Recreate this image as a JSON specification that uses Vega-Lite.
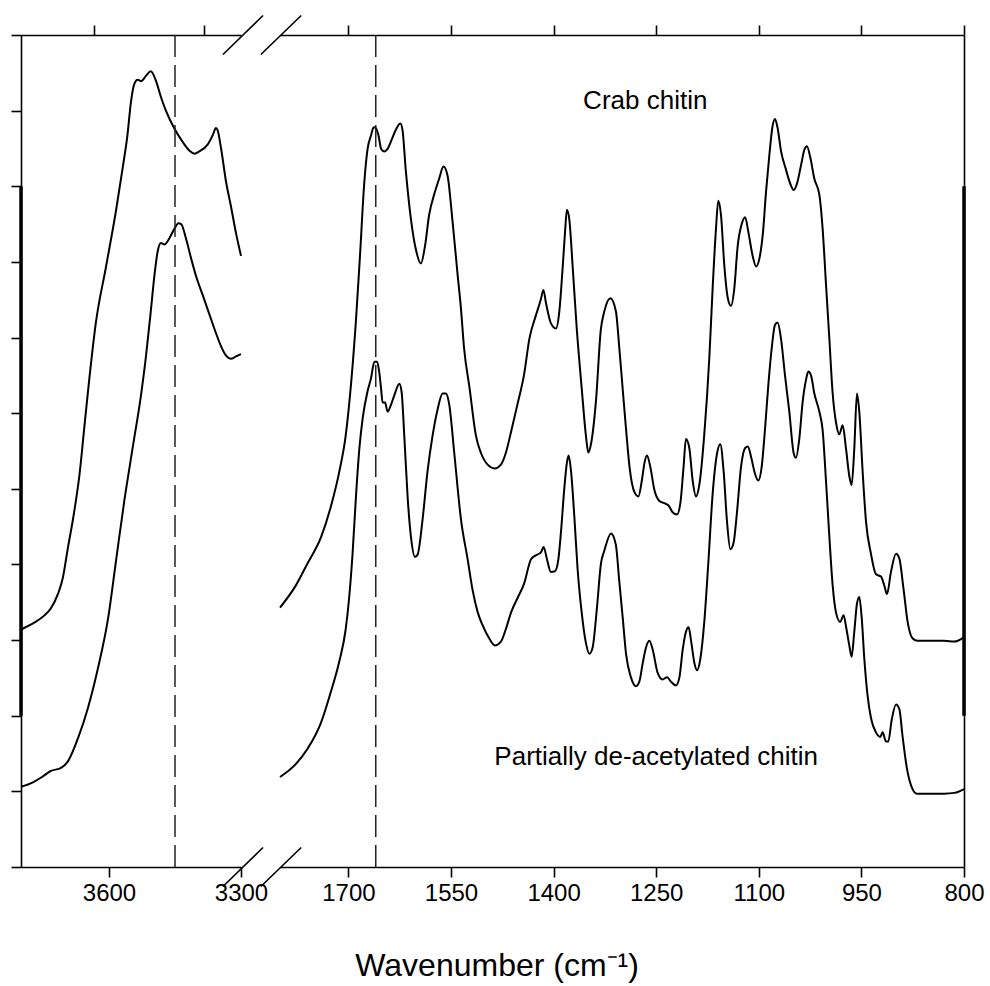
{
"$schema": "https://vega.github.io/schema/vega-lite/v6.json",
"padding": {"left": 10, "top": 14, "right": 5, "bottom": 5},
"background": "white",
"bounds": "flush",
"spacing": 39,
"config": {
  "view": {"stroke": null},
  "font": "Liberation Sans",
  "axis": {"domainColor": "black", "tickColor": "black", "labelColor": "black", "domainWidth": 1.6, "tickWidth": 1.6, "grid": false, "labelFont": "Liberation Sans", "labelFontSize": 24, "title": null, "labelPadding": 4, "format": "d"}
},
"title": {"text": "Wavenumber (cm⁻¹)", "orient": "bottom", "anchor": "middle", "fontSize": 32, "font": "Liberation Sans", "fontWeight": "normal", "color": "black", "offset": 46},
"datasets": {
  "crabL": [{"w":3800,"a":3.14},{"w":3770,"a":3.23},{"w":3748,"a":3.32},{"w":3732,"a":3.42},{"w":3716,"a":3.61},{"w":3705,"a":3.82},{"w":3694,"a":4.2},{"w":3679,"a":4.7},{"w":3667,"a":5.19},{"w":3656,"a":5.82},{"w":3645,"a":6.44},{"w":3630,"a":7.19},{"w":3607,"a":7.93},{"w":3584,"a":8.68},{"w":3569,"a":9.24},{"w":3558,"a":9.68},{"w":3550,"a":10.12},{"w":3542,"a":10.36},{"w":3535,"a":10.41},{"w":3527,"a":10.39},{"w":3516,"a":10.46},{"w":3505,"a":10.52},{"w":3493,"a":10.39},{"w":3482,"a":10.18},{"w":3470,"a":9.99},{"w":3452,"a":9.77},{"w":3433,"a":9.59},{"w":3417,"a":9.47},{"w":3406,"a":9.43},{"w":3395,"a":9.46},{"w":3376,"a":9.55},{"w":3364,"a":9.68},{"w":3357,"a":9.77},{"w":3353,"a":9.74},{"w":3345,"a":9.49},{"w":3334,"a":9.06},{"w":3323,"a":8.74},{"w":3311,"a":8.37},{"w":3300,"a":8.08}],
  "lowL": [{"w":3800,"a":1.06},{"w":3773,"a":1.12},{"w":3755,"a":1.18},{"w":3732,"a":1.27},{"w":3709,"a":1.31},{"w":3693,"a":1.4},{"w":3670,"a":1.71},{"w":3648,"a":2.1},{"w":3625,"a":2.63},{"w":3602,"a":3.29},{"w":3584,"a":4.05},{"w":3565,"a":4.85},{"w":3546,"a":5.55},{"w":3527,"a":6.25},{"w":3516,"a":6.75},{"w":3505,"a":7.35},{"w":3497,"a":7.81},{"w":3489,"a":8.15},{"w":3482,"a":8.25},{"w":3474,"a":8.23},{"w":3463,"a":8.31},{"w":3452,"a":8.43},{"w":3442,"a":8.51},{"w":3436,"a":8.5},{"w":3425,"a":8.31},{"w":3414,"a":8.06},{"w":3402,"a":7.81},{"w":3387,"a":7.56},{"w":3372,"a":7.31},{"w":3357,"a":7.06},{"w":3345,"a":6.88},{"w":3334,"a":6.76},{"w":3323,"a":6.72},{"w":3311,"a":6.75},{"w":3300,"a":6.78}],
  "crabR": [{"w":1800,"a":3.43},{"w":1777,"a":3.72},{"w":1760,"a":4.01},{"w":1740,"a":4.36},{"w":1725.5,"a":4.77},{"w":1713,"a":5.24},{"w":1704,"a":5.7},{"w":1696,"a":6.4},{"w":1689,"a":7.22},{"w":1683,"a":8.09},{"w":1677,"a":9.02},{"w":1672,"a":9.49},{"w":1667,"a":9.67},{"w":1663,"a":9.78},{"w":1660,"a":9.77},{"w":1656,"a":9.67},{"w":1652,"a":9.49},{"w":1647.5,"a":9.46},{"w":1643,"a":9.49},{"w":1637,"a":9.61},{"w":1630.5,"a":9.75},{"w":1624,"a":9.83},{"w":1621,"a":9.75},{"w":1616,"a":9.2},{"w":1608.5,"a":8.56},{"w":1601,"a":8.15},{"w":1594,"a":7.98},{"w":1588,"a":8.21},{"w":1582,"a":8.62},{"w":1574,"a":8.91},{"w":1567,"a":9.11},{"w":1561,"a":9.26},{"w":1555,"a":9.14},{"w":1548,"a":8.56},{"w":1540,"a":7.8},{"w":1535.5,"a":7.39},{"w":1531,"a":6.87},{"w":1523,"a":6.34},{"w":1513.5,"a":5.7},{"w":1506,"a":5.47},{"w":1496.5,"a":5.32},{"w":1486,"a":5.27},{"w":1477,"a":5.32},{"w":1470,"a":5.47},{"w":1462,"a":5.76},{"w":1453,"a":6.11},{"w":1443,"a":6.52},{"w":1435.5,"a":6.98},{"w":1426,"a":7.29},{"w":1418.5,"a":7.51},{"w":1415,"a":7.63},{"w":1411,"a":7.45},{"w":1404,"a":7.19},{"w":1396.6,"a":7.12},{"w":1391.7,"a":7.34},{"w":1386.8,"a":7.92},{"w":1383.4,"a":8.38},{"w":1380.5,"a":8.69},{"w":1377,"a":8.56},{"w":1372,"a":7.92},{"w":1366,"a":7.1},{"w":1359,"a":6.34},{"w":1352.7,"a":5.7},{"w":1349.3,"a":5.48},{"w":1345.4,"a":5.59},{"w":1338,"a":6.17},{"w":1331,"a":7.1},{"w":1326,"a":7.34},{"w":1317,"a":7.52},{"w":1309,"a":7.35},{"w":1304,"a":6.87},{"w":1299,"a":6.32},{"w":1294,"a":5.78},{"w":1289,"a":5.29},{"w":1282,"a":4.96},{"w":1276,"a":4.9},{"w":1271,"a":5.11},{"w":1267,"a":5.35},{"w":1263.5,"a":5.44},{"w":1258.6,"a":5.29},{"w":1252.8,"a":4.99},{"w":1245.4,"a":4.84},{"w":1238,"a":4.81},{"w":1232,"a":4.78},{"w":1226,"a":4.69},{"w":1219.6,"a":4.66},{"w":1214.7,"a":4.81},{"w":1210,"a":5.29},{"w":1206.5,"a":5.66},{"w":1201.6,"a":5.54},{"w":1196.7,"a":5.11},{"w":1191.8,"a":4.9},{"w":1187,"a":5.05},{"w":1179.7,"a":5.72},{"w":1172.3,"a":6.74},{"w":1167.5,"a":7.65},{"w":1162.6,"a":8.44},{"w":1159.2,"a":8.81},{"w":1155.3,"a":8.62},{"w":1150.4,"a":7.95},{"w":1145.5,"a":7.53},{"w":1140.7,"a":7.42},{"w":1135.8,"a":7.65},{"w":1131,"a":8.2},{"w":1125,"a":8.5},{"w":1120,"a":8.59},{"w":1115,"a":8.38},{"w":1109,"a":8.08},{"w":1104,"a":7.94},{"w":1099,"a":8.05},{"w":1094,"a":8.38},{"w":1089.5,"a":8.92},{"w":1084.6,"a":9.41},{"w":1079.8,"a":9.8},{"w":1076.3,"a":9.89},{"w":1072.5,"a":9.77},{"w":1067.6,"a":9.47},{"w":1060.3,"a":9.22},{"w":1053,"a":9.01},{"w":1049,"a":8.95},{"w":1044,"a":9.04},{"w":1038,"a":9.29},{"w":1033.5,"a":9.48},{"w":1029.6,"a":9.53},{"w":1024.7,"a":9.38},{"w":1018.8,"a":9.1},{"w":1011.5,"a":8.89},{"w":1006.7,"a":8.44},{"w":1001.8,"a":7.71},{"w":996.9,"a":6.99},{"w":992,"a":6.26},{"w":987,"a":5.87},{"w":982.3,"a":5.72},{"w":977.4,"a":5.84},{"w":972.5,"a":5.53},{"w":967.7,"a":5.17},{"w":964.3,"a":5.05},{"w":960.4,"a":5.53},{"w":956.5,"a":6.26},{"w":953.1,"a":6.02},{"w":948.2,"a":5.23},{"w":943.3,"a":4.57},{"w":936,"a":4.14},{"w":928.7,"a":3.87},{"w":921.4,"a":3.84},{"w":916.5,"a":3.72},{"w":912.6,"a":3.61},{"w":906.8,"a":3.9},{"w":899.4,"a":4.14},{"w":894.6,"a":4.08},{"w":888.2,"a":3.66},{"w":882.4,"a":3.24},{"w":875,"a":3.02},{"w":868,"a":2.99},{"w":829,"a":2.99},{"w":814,"a":2.98},{"w":800,"a":3.04}],
  "lowR": [{"w":1800,"a":1.19},{"w":1777,"a":1.36},{"w":1760,"a":1.56},{"w":1740,"a":1.91},{"w":1725.5,"a":2.32},{"w":1713,"a":2.73},{"w":1704,"a":3.14},{"w":1699,"a":3.55},{"w":1694,"a":4.13},{"w":1689,"a":4.89},{"w":1684,"a":5.53},{"w":1679,"a":5.94},{"w":1672,"a":6.29},{"w":1667,"a":6.46},{"w":1662,"a":6.68},{"w":1658,"a":6.68},{"w":1655,"a":6.55},{"w":1652.4,"a":6.34},{"w":1650,"a":6.14},{"w":1646.5,"a":6.14},{"w":1642.6,"a":6.02},{"w":1637.8,"a":6.11},{"w":1632,"a":6.26},{"w":1625.6,"a":6.39},{"w":1622.2,"a":6.28},{"w":1618.3,"a":5.7},{"w":1613.4,"a":4.89},{"w":1608.5,"a":4.36},{"w":1602.7,"a":4.1},{"w":1598.8,"a":4.13},{"w":1591.5,"a":4.6},{"w":1584.2,"a":5.24},{"w":1577,"a":5.7},{"w":1569.6,"a":6.05},{"w":1562.2,"a":6.26},{"w":1557.4,"a":6.26},{"w":1552.5,"a":6.11},{"w":1545.2,"a":5.47},{"w":1535.5,"a":4.6},{"w":1525.7,"a":4.07},{"w":1518.4,"a":3.66},{"w":1511,"a":3.37},{"w":1504,"a":3.2},{"w":1494,"a":3.02},{"w":1486,"a":2.93},{"w":1477,"a":2.98},{"w":1470,"a":3.14},{"w":1462,"a":3.37},{"w":1453,"a":3.55},{"w":1443,"a":3.75},{"w":1433,"a":4.07},{"w":1426,"a":4.12},{"w":1418.5,"a":4.16},{"w":1414.6,"a":4.23},{"w":1409.7,"a":4.07},{"w":1404,"a":3.9},{"w":1398,"a":3.91},{"w":1393,"a":4.07},{"w":1389.3,"a":4.42},{"w":1384.4,"a":5.0},{"w":1380.5,"a":5.35},{"w":1378,"a":5.44},{"w":1374.6,"a":5.24},{"w":1369.8,"a":4.65},{"w":1365,"a":3.95},{"w":1359,"a":3.37},{"w":1352.7,"a":2.96},{"w":1347.8,"a":2.82},{"w":1343,"a":2.9},{"w":1336.6,"a":3.43},{"w":1330.8,"a":4.01},{"w":1325.9,"a":4.18},{"w":1316,"a":4.41},{"w":1309,"a":4.26},{"w":1304,"a":3.78},{"w":1299,"a":3.3},{"w":1294,"a":2.81},{"w":1287,"a":2.51},{"w":1279.6,"a":2.39},{"w":1274.7,"a":2.45},{"w":1269.8,"a":2.69},{"w":1265,"a":2.9},{"w":1260,"a":2.99},{"w":1255,"a":2.87},{"w":1248,"a":2.57},{"w":1240.6,"a":2.48},{"w":1234,"a":2.51},{"w":1228.4,"a":2.45},{"w":1221,"a":2.4},{"w":1216,"a":2.51},{"w":1211.3,"a":2.87},{"w":1206.5,"a":3.11},{"w":1202.6,"a":3.17},{"w":1199,"a":2.99},{"w":1194,"a":2.69},{"w":1190.4,"a":2.6},{"w":1185.5,"a":2.75},{"w":1179.7,"a":3.24},{"w":1173.8,"a":4.02},{"w":1167.5,"a":4.93},{"w":1161,"a":5.47},{"w":1156.3,"a":5.59},{"w":1151.4,"a":5.23},{"w":1146.5,"a":4.57},{"w":1141.6,"a":4.2},{"w":1136.8,"a":4.29},{"w":1131.9,"a":4.69},{"w":1126,"a":5.29},{"w":1120,"a":5.54},{"w":1116,"a":5.56},{"w":1111,"a":5.41},{"w":1105.6,"a":5.2},{"w":1100.7,"a":5.11},{"w":1095.8,"a":5.29},{"w":1091,"a":5.78},{"w":1086,"a":6.38},{"w":1081,"a":6.87},{"w":1076.3,"a":7.17},{"w":1072.5,"a":7.2},{"w":1067.6,"a":6.99},{"w":1061.7,"a":6.5},{"w":1055.4,"a":6.02},{"w":1049,"a":5.47},{"w":1045.7,"a":5.41},{"w":1040.8,"a":5.66},{"w":1036,"a":6.14},{"w":1031,"a":6.44},{"w":1027.6,"a":6.55},{"w":1023.7,"a":6.5},{"w":1018.8,"a":6.26},{"w":1011.5,"a":6.02},{"w":1006.7,"a":5.78},{"w":1001.8,"a":5.11},{"w":997,"a":4.39},{"w":992,"a":3.72},{"w":987,"a":3.36},{"w":981,"a":3.24},{"w":976,"a":3.33},{"w":972.5,"a":3.18},{"w":967.7,"a":2.93},{"w":964.3,"a":2.78},{"w":960.4,"a":3.11},{"w":956.5,"a":3.48},{"w":953.1,"a":3.57},{"w":949.6,"a":3.3},{"w":945.7,"a":2.75},{"w":941,"a":2.27},{"w":936,"a":1.97},{"w":928.7,"a":1.78},{"w":922.4,"a":1.72},{"w":919,"a":1.78},{"w":914,"a":1.66},{"w":910.7,"a":1.66},{"w":905.8,"a":1.94},{"w":899.4,"a":2.15},{"w":894.6,"a":2.09},{"w":889.7,"a":1.72},{"w":883.4,"a":1.3},{"w":876.6,"a":1.06},{"w":868.8,"a":0.97},{"w":829,"a":0.97},{"w":814,"a":0.98},{"w":800,"a":1.03}],
  "refs": [{"p":"L","w":3450},{"p":"R","w":1660}],
  "edges": [{"p":"L","w":3800,"y1":2,"y2":9},{"p":"R","w":800,"y1":2,"y2":9}],
  "breaks": [{"p":"L","x1":3341,"x2":3250,"y1":10.742,"y2":11.258},{"p":"L","x1":3341,"x2":3250,"y1":-0.258,"y2":0.258},{"p":"R","x1":1828,"x2":1769,"y1":10.742,"y2":11.258},{"p":"R","x1":1828,"x2":1769,"y1":-0.258,"y2":0.258}],
  "labels": [{"t":"Crab chitin","w":1266,"a":10.13},{"t":"Partially de-acetylated chitin","w":1250,"a":1.45}]
},
"hconcat": [
  {
    "width": 220, "height": 832,
    "resolve": {"axis": {"x": "independent"}},
    "layer": [
      {"data": {"name": "crabL"}, "mark": {"type": "line", "color": "black", "strokeWidth": 2, "interpolate": "monotone", "clip": false},
       "encoding": {
         "x": {"field": "w", "type": "quantitative", "scale": {"domain": [3300, 3800], "reverse": true, "zero": false, "nice": false}, "axis": {"orient": "bottom", "values": [3600, 3300], "tickSize": 10, "labelFlush": false}},
         "y": {"field": "a", "type": "quantitative", "scale": {"domain": [0, 11], "zero": false, "nice": false}, "axis": {"orient": "left", "values": [0,1,2,3,4,5,6,7,8,9,10,11], "tickSize": 10, "labels": false}}}},
      {"data": {"name": "lowL"}, "mark": {"type": "line", "color": "black", "strokeWidth": 2, "interpolate": "monotone", "clip": false},
       "encoding": {
         "x": {"field": "w", "type": "quantitative", "axis": {"orient": "top", "values": [3634, 3384], "tickSize": 10, "labels": false}},
         "y": {"field": "a", "type": "quantitative"}}},
      {"data": {"name": "refs"}, "transform": [{"filter": "datum.p == 'L'"}], "mark": {"type": "rule", "color": "#222", "strokeWidth": 1.5, "strokeDash": [22, 8]},
       "encoding": {"x": {"field": "w", "type": "quantitative", "axis": null}}},
      {"data": {"name": "edges"}, "transform": [{"filter": "datum.p == 'L'"}], "mark": {"type": "rule", "color": "black", "strokeWidth": 3.5, "clip": false},
       "encoding": {"x": {"field": "w", "type": "quantitative", "axis": null}, "y": {"field": "y1", "type": "quantitative"}, "y2": {"field": "y2"}}},
      {"data": {"name": "breaks"}, "transform": [{"filter": "datum.p == 'L'"}], "mark": {"type": "rule", "color": "black", "strokeWidth": 1.6, "clip": false},
       "encoding": {"x": {"field": "x1", "type": "quantitative", "axis": null}, "x2": {"field": "x2"}, "y": {"field": "y1", "type": "quantitative"}, "y2": {"field": "y2"}}}
    ]
  },
  {
    "width": 684, "height": 832,
    "resolve": {"axis": {"x": "independent"}},
    "layer": [
      {"data": {"name": "crabR"}, "mark": {"type": "line", "color": "black", "strokeWidth": 2, "interpolate": "monotone", "clip": false},
       "encoding": {
         "x": {"field": "w", "type": "quantitative", "scale": {"domain": [800, 1800], "reverse": true, "zero": false, "nice": false}, "axis": {"orient": "bottom", "values": [1700, 1550, 1400, 1250, 1100, 950, 800], "tickSize": 10, "labelFlush": false}},
         "y": {"field": "a", "type": "quantitative", "scale": {"domain": [0, 11], "zero": false, "nice": false}, "axis": {"orient": "right", "ticks": false, "labels": false}}}},
      {"data": {"name": "lowR"}, "mark": {"type": "line", "color": "black", "strokeWidth": 2, "interpolate": "monotone", "clip": false},
       "encoding": {
         "x": {"field": "w", "type": "quantitative", "axis": {"orient": "top", "values": [1700, 1550, 1400, 1250, 1100, 950, 800], "tickSize": 10, "labels": false}},
         "y": {"field": "a", "type": "quantitative"}}},
      {"data": {"name": "refs"}, "transform": [{"filter": "datum.p == 'R'"}], "mark": {"type": "rule", "color": "#222", "strokeWidth": 1.5, "strokeDash": [22, 8]},
       "encoding": {"x": {"field": "w", "type": "quantitative", "axis": null}}},
      {"data": {"name": "edges"}, "transform": [{"filter": "datum.p == 'R'"}], "mark": {"type": "rule", "color": "black", "strokeWidth": 3.5, "clip": false},
       "encoding": {"x": {"field": "w", "type": "quantitative", "axis": null}, "y": {"field": "y1", "type": "quantitative"}, "y2": {"field": "y2"}}},
      {"data": {"name": "breaks"}, "transform": [{"filter": "datum.p == 'R'"}], "mark": {"type": "rule", "color": "black", "strokeWidth": 1.6, "clip": false},
       "encoding": {"x": {"field": "x1", "type": "quantitative", "axis": null}, "x2": {"field": "x2"}, "y": {"field": "y1", "type": "quantitative"}, "y2": {"field": "y2"}}},
      {"data": {"name": "labels"}, "mark": {"type": "text", "color": "black", "fontSize": 26, "font": "Liberation Sans", "align": "center", "baseline": "middle"},
       "encoding": {"x": {"field": "w", "type": "quantitative", "axis": null}, "y": {"field": "a", "type": "quantitative"}, "text": {"field": "t"}}}
    ]
  }
]
}
